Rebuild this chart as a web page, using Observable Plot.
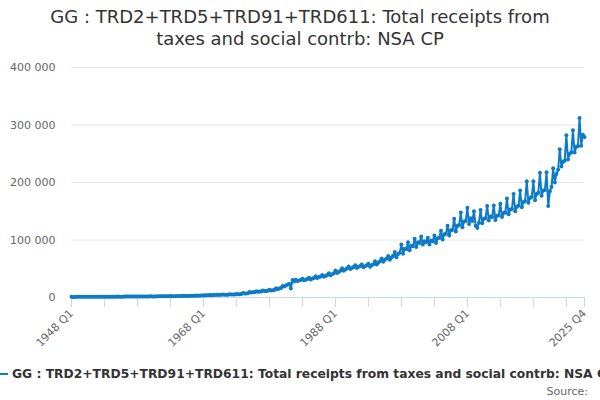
<!DOCTYPE html>
<html>
<head>
<meta charset="utf-8">
<script src="https://cdn.jsdelivr.net/npm/d3@7"></script>
<script src="https://cdn.jsdelivr.net/npm/@observablehq/plot@0.6"></script>
<style>
  html, body { margin: 0; padding: 0; background: #fff; }
  #wrap { position: relative; width: 600px; height: 400px; overflow: hidden; font-family: "DejaVu Sans", sans-serif; }
  #title { position: absolute; left: 0; top: 6px; width: 600px; text-align: center; font-family: "DejaVu Sans", sans-serif; font-size: 18px; line-height: 22px; color: #333; }
  #chart { position: absolute; left: 0; top: 55px; }
  #legend { position: absolute; left: 0; top: 367px; width: 600px; white-space: nowrap; overflow: hidden; font-size: 12.3px; font-weight: bold; color: #333; }
  #legend .sym { display: inline-block; width: 8px; height: 2px; background: #0e7bc6; vertical-align: middle; margin-right: 4px; position: relative; top: -1px; }
  #source { position: absolute; right: 12px; top: 385px; font-size: 11px; color: #666; }
</style>
</head>
<body>
<div id="wrap">
  <div id="title">GG : TRD2+TRD5+TRD91+TRD611: Total receipts from<br>taxes and social contrb: NSA CP</div>
  <div id="chart"></div>
  <div id="legend"><span class="sym"></span>GG : TRD2+TRD5+TRD91+TRD611: Total receipts from taxes and social contrb: NSA CP</div>
  <div id="source">Source:</div>
</div>
<script>
const seriesName = "GG : TRD2+TRD5+TRD91+TRD611: Total receipts from taxes and social contrb: NSA CP";
const startYear = 1948;
// Quarterly values (Q1..Q4 per row), £ million
const receipts = [
  1150,1050,1080,1100,   // 1948
  1200,1100,1120,1150,   // 1949
  1230,1120,1150,1180,   // 1950
  1340,1220,1250,1280,   // 1951
  1420,1290,1320,1350,   // 1952
  1450,1320,1350,1380,   // 1953
  1500,1370,1400,1430,   // 1954
  1600,1450,1490,1520,   // 1955
  1680,1530,1570,1600,   // 1956
  1760,1600,1650,1680,   // 1957
  1850,1680,1720,1760,   // 1958
  1890,1720,1760,1800,   // 1959
  1980,1800,1840,1880,   // 1960
  2150,1960,2010,2050,   // 1961
  2310,2100,2160,2200,   // 1962
  2400,2180,2230,2280,   // 1963
  2600,2370,2430,2480,   // 1964
  2940,2680,2740,2800,   // 1965
  3200,2920,2990,3050,   // 1966
  3520,3200,3280,3350,   // 1967
  4040,3680,3770,3850,   // 1968
  4500,4110,4210,4300,   // 1969
  4930,4490,4600,4700,   // 1970
  5250,4780,4900,5000,   // 1971
  5560,5060,5190,5300,   // 1972
  6200,5640,5780,5900,   // 1973
  7650,6970,7150,7300,   // 1974
  9650,8790,9010,9200,   // 1975
  11000,10030,10290,10500, // 1976
  12300,11180,11460,11700, // 1977
  13550,12330,12640,12900, // 1978
  15900,14500,15500,16500, // 1979
  20000,19000,21000,22500, // 1980
  24000,15500,30500,28000, // 1981
  31000,28500,29500,30500, // 1982
  32500,30000,31000,32000, // 1983
  34500,31500,33000,34000, // 1984
  37000,34000,35500,36500, // 1985
  39000,36000,37500,39000, // 1986
  42000,38500,40500,42000, // 1987
  47000,42500,44500,46500, // 1988
  51000,46500,48500,50500, // 1989
  54000,49500,51500,53000, // 1990
  56000,51500,53500,55000, // 1991
  57500,52500,54500,56000, // 1992
  58500,53500,56000,58000, // 1993
  63000,57500,60500,63000, // 1994
  68000,62000,65500,68000, // 1995
  72000,65500,69500,72500, // 1996
  79000,70000,75500,78000, // 1997
  92000,76000,85000,84000, // 1998
  96000,82000,90000,89000, // 1999
  102000,88000,96000,95000, // 2000
  106000,92000,98000,96000, // 2001
  104000,92000,99000,98000, // 2002
  108000,95000,103000,104000, // 2003
  116000,101000,110000,111000, // 2004
  125000,108000,117000,118000, // 2005
  137000,115000,125000,126000, // 2006
  148000,122000,132000,133000, // 2007
  156000,128000,138000,133000, // 2008
  150000,125000,121000,130000, // 2009
  152000,129000,137000,138000, // 2010
  159000,134000,141000,140000, // 2011
  160000,135000,142000,143000, // 2012
  163000,140000,147000,148000, // 2013
  172000,145000,153000,154000, // 2014
  180000,150000,158000,160000, // 2015
  186000,157000,166000,168000, // 2016
  202000,165000,173000,175000, // 2017
  202000,169000,180000,182000, // 2018
  217000,177000,186000,187000, // 2019
  218000,159000,185000,192000, // 2020
  225000,200000,215000,222000, // 2021
  258000,228000,236000,238000, // 2022
  282000,240000,250000,252000, // 2023
  291000,252000,262000,263000, // 2024
  312000,264000,283000,279000  // 2025
];
const xTickYears = [1948,1953,1958,1963,1968,1973,1978,1983,1988,1993,1998,2003,2008,2013,2018,2023,2025.75];
const xTickNames = ["1948 Q1","","","","1968 Q1","","","","1988 Q1","","","","2008 Q1","","","","2025 Q4"];
const yTicks = [0,100000,200000,300000,400000];

const lineColor = "#0e7bc6";
const data = receipts.map((v, i) => ({t: startYear + i / 4, v}));
const fmt = d => d3.format(",")(d).replace(/,/g, " ");

const chart = Plot.plot({
  width: 600,
  height: 300,
  marginTop: 12,
  marginBottom: 58,
  marginLeft: 71,
  marginRight: 16,
  style: {fontFamily: "DejaVu Sans, sans-serif", fontSize: "11px", color: "#666", background: "transparent"},
  x: {type: "linear", domain: [1948, 2025.75]},
  y: {domain: [0, 400000]},
  marks: [
    Plot.gridY(yTicks, {stroke: "#e6e6e6", strokeOpacity: 1}),
    Plot.axisY(yTicks, {tickSize: 0, tickPadding: 16, tickFormat: fmt, fill: "#666", label: null}),
    Plot.axisX(xTickYears, {tickSize: 10, stroke: "#ccd6eb", strokeOpacity: 1, tickRotate: -45, tickPadding: 4,
      tickFormat: d => xTickNames[xTickYears.indexOf(d)], fill: "#666", label: null}),
    Plot.ruleY([0], {stroke: "#ccd6eb"}),
    Plot.line(data, {x: "t", y: "v", stroke: lineColor, strokeWidth: 2}),
    Plot.dot(data, {x: "t", y: "v", r: 2, fill: lineColor, stroke: null})
  ]
});
document.getElementById("chart").appendChild(chart);
</script>
</body>
</html>
